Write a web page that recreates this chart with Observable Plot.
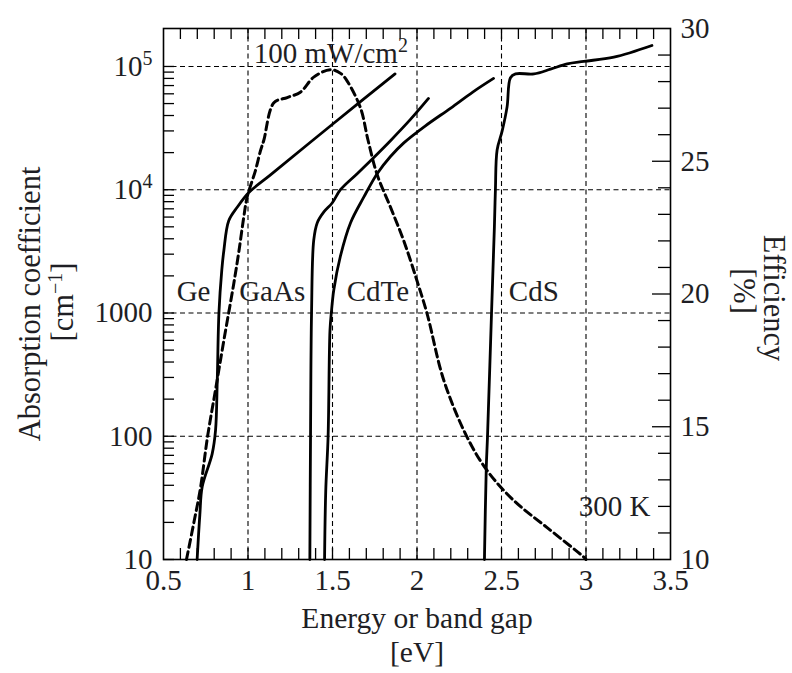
<!DOCTYPE html>
<html><head><meta charset="utf-8">
<script src="https://cdn.jsdelivr.net/npm/d3@7"></script>
<script src="https://cdn.jsdelivr.net/npm/@observablehq/plot@0.6"></script>
<style>body{margin:0;background:#fff}</style>
</head><body><div id="chart"></div>
<script>
// ---- data ----
const geE   = [0.699,0.715,0.729,0.788,0.808,0.818,0.828,0.845,0.857,0.886,0.936,1.005,1.133,1.50,1.87];
const geA   = [10,23,39,72,112,280,1000,2240,3200,5600,7200,9500,13200,34000,87000];
const gaasE = [1.366,1.370,1.376,1.389,1.410,1.449,1.498,1.547,1.646,1.743,1.843,1.960,2.068];
const gaasA = [10,100,1000,3900,5400,6600,7800,10000,13500,18200,25000,37000,55000];
const cdteE = [1.453,1.460,1.474,1.485,1.493,1.508,1.547,1.607,1.685,1.764,1.843,1.922,2.050,2.200,2.330,2.453];
const cdteA = [10,36,100,720,1000,1550,2900,5400,8700,13500,18600,24000,33000,46000,62000,80000];
const cdsE  = [2.399,2.410,2.417,2.441,2.458,2.464,2.474,2.504,2.533,2.553,2.583,2.692,2.790,2.889,2.987,3.165,3.390];
const cdsA  = [10,56,98,1000,5000,10000,21000,30000,47000,81000,87000,87000,95000,105000,110000,119000,148000];
// efficiency (dashed, right axis, %)
const effE  = [0.636,0.680,0.719,0.760,0.808,0.857,0.916,0.946,0.975,0.995,1.044,1.074,1.094,1.153,1.232,1.310,1.389,1.488,1.550,1.589,1.666,1.710,1.764,1.843,1.922,2.000,2.060,2.159,2.297,2.415,2.573,2.770,2.987,3.000];
const effV  = [10.0,11.4,12.7,14.6,16.4,18.25,20.4,21.6,22.9,23.65,24.65,25.4,25.8,27.2,27.4,27.6,28.17,28.45,28.3,28.0,27.0,25.8,24.5,23.27,22.0,20.5,19.25,16.74,14.6,13.35,12.22,11.2,10.09,10.0];

const xTickVals  = [0.5,1,1.5,2,2.5,3,3.5];
const xTickText  = ["0.5","1","1.5","2","2.5","3","3.5"];
const xGridVals  = [1,1.5,2,2.5,3];
const yTickVals  = [10,100,1000,1e4,1e5];
const yTickText  = ["10","100","1000","10^{4}","10^{5}"];
const yGridVals  = [100,1000,1e4,1e5];
const effTickVals = [10,15,20,25,30];
const effTickText = ["10","15","20","25","30"];

const annText = ["Ge","GaAs","CdTe","CdS","300 K"];
const annE    = [0.678,1.143,1.769,2.691,3.169];
const annA    = [1500,1500,1500,1500,27];
const powerText = "100 mW/cm^{2}";
const powerE = 1.034, powerA = 126500;

// ---- layout ----
const W = 792, H = 673, mL = 163, mR = 122, mT = 28, mB = 114;
const innerW = W - mL - mR, innerH = H - mT - mB;
const LOGTOP = 5.308;
const effToA = e => 10 ** (1 + (e - 10) / 20 * (LOGTOP - 1));
const FS = 29, TFS = 30.5;
const INK = "#1e1e24";

const solid = [
  ["Ge", geE, geA], ["GaAs", gaasE, gaasA], ["CdTe", cdteE, cdteA], ["CdS", cdsE, cdsA]
].flatMap(([name, E, A]) => E.map((e, i) => ({series: name, e, a: A[i]})));
const eff = effE.map((e, i) => ({e, v: effV[i]}));

const xMinor = d3.range(6, 35).map(k => k / 10);
const yMinor = [10,100,1000,10000,100000].flatMap(d => [2,3,4,5,6,7,8,9].map(k => d*k)).filter(v => Math.log10(v) < LOGTOP - 0.01);
const effMinor = d3.range(11, 30).filter(v => v % 5 !== 0);
const effMajor = [15, 20, 25];

const dash = "5,3.5";
const chart = Plot.plot({
  width: W, height: H,
  marginLeft: mL, marginRight: mR, marginTop: mT, marginBottom: mB,
  x: {domain: [0.5, 3.5], axis: null},
  y: {type: "log", domain: [10, 10 ** LOGTOP], axis: null},
  style: {fontFamily: "'Liberation Serif', 'Times New Roman', serif", fontSize: FS + "px", color: INK, background: "#fff", overflow: "visible"},
  marks: [
    Plot.ruleX(xGridVals, {x: d => d, stroke: "#000", strokeWidth: 1.1, strokeDasharray: dash}),
    Plot.ruleY(yGridVals, {y: d => d, stroke: "#000", strokeWidth: 1.1, strokeDasharray: dash}),
    // ticks
    Plot.tickX(xMinor, {x: d => d, insetTop: innerH - 11, stroke: "#000", strokeWidth: 1.3}),
    Plot.tickX(xMinor, {x: d => d, insetBottom: innerH - 11, stroke: "#000", strokeWidth: 1.3}),
    Plot.tickY(yMinor, {y: d => d, insetRight: innerW - 11, stroke: "#000", strokeWidth: 1.3}),
    Plot.tickY(yTickVals, {y: d => d, insetRight: innerW - 11, stroke: "#000", strokeWidth: 1.3}),
    Plot.tickY(effMinor, {y: d => effToA(d), insetLeft: innerW - 12, stroke: "#000", strokeWidth: 1.3}),
    Plot.tickY(effMajor, {y: d => effToA(d), insetLeft: innerW - 18, stroke: "#000", strokeWidth: 1.3}),
    // curves
    Plot.line(solid, {x: "e", y: "a", z: "series", stroke: "#000", strokeWidth: 2.8, curve: "catmull-rom"}),
    Plot.line(eff, {x: "e", y: d => effToA(d.v), stroke: "#000", strokeWidth: 3, strokeDasharray: "8,4.5", curve: "catmull-rom"}),
    Plot.frame({stroke: "#000", strokeWidth: 1.6}),
    // tick labels
    Plot.text(xTickVals, {x: d => d, text: (d, i) => xTickText[i], frameAnchor: "bottom", dy: 30, fill: INK}),
    Plot.text(yTickVals, {y: d => d, text: (d, i) => yTickText[i], frameAnchor: "left", textAnchor: "end", dx: -11, fill: INK}),
    Plot.text(effTickVals, {y: d => effToA(d), text: (d, i) => effTickText[i], frameAnchor: "right", textAnchor: "start", dx: 10, fill: INK}),
    // annotations
    Plot.text(annText, {x: (d, i) => annE[i], y: (d, i) => annA[i], text: d => d, fill: INK}),
    Plot.text([powerText], {x: () => powerE, y: () => powerA, text: d => d, textAnchor: "start", fill: INK}),
    // axis titles
    Plot.text(["Energy or band gap"], {frameAnchor: "bottom", textAnchor: "middle", dy: 68, fontSize: 29.5, text: d => d, fill: INK}),
    Plot.text(["[eV]"], {frameAnchor: "bottom", textAnchor: "middle", dy: 102, fontSize: 29.5, text: d => d, fill: INK}),
    Plot.text(["Absorption coefficient"], {frameAnchor: "left", textAnchor: "middle", dx: -133, dy: 10, rotate: -90, fontSize: TFS, text: d => d, fill: INK}),
    Plot.text(["[cm^{−1}]"], {frameAnchor: "left", textAnchor: "middle", dx: -100, dy: 8, rotate: -90, fontSize: TFS, text: d => d, fill: INK}),
    Plot.text(["Efficiency"], {frameAnchor: "right", textAnchor: "middle", dx: 103, dy: 4, rotate: 90, fontSize: TFS, text: d => d, fill: INK}),
    Plot.text(["[%]"], {frameAnchor: "right", textAnchor: "middle", dx: 73, dy: -3, rotate: 90, fontSize: TFS, text: d => d, fill: INK})
  ]
});

// render "^{...}" as superscript tspans
const NS = "http://www.w3.org/2000/svg";
chart.querySelectorAll("text").forEach(t => {
  const m = t.textContent.match(/^(.*)\^\{(.*)\}(.*)$/);
  if (!m) return;
  t.textContent = "";
  const a = document.createElementNS(NS, "tspan"); a.textContent = m[1]; t.appendChild(a);
  const b = document.createElementNS(NS, "tspan"); b.textContent = m[2];
  b.setAttribute("font-size", "20px"); b.setAttribute("dy", "-11"); t.appendChild(b);
  if (m[3]) { const c = document.createElementNS(NS, "tspan"); c.textContent = m[3]; c.setAttribute("dy", "11"); t.appendChild(c); }
});
document.getElementById("chart").appendChild(chart);
</script>
</body></html>
